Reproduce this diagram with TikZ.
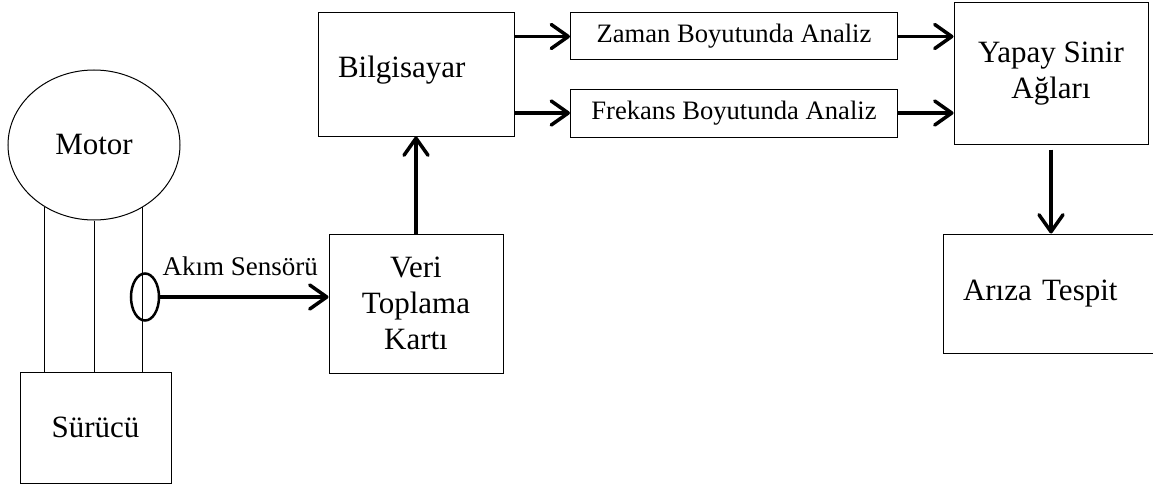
\documentclass[tikz,border=0pt]{standalone}
\usepackage{fontspec}
\setmainfont{Liberation Serif}
\usetikzlibrary{positioning,shapes.geometric,arrows.meta}

\begin{document}
\begin{tikzpicture}[
  x=1pt, y=-1pt,
  font=\fontsize{31}{36}\selectfont,
  box/.style={draw, line width=1pt, align=center, inner sep=0pt},
  small/.style={font=\fontsize{26.6}{32}\selectfont},
  arrow/.style={-{Straight Barb[length=17pt,width=24pt,round]}, line width=3.5pt},
  wire/.style={line width=1pt},
]
  \useasboundingbox (0,0) rectangle (1153,487);

  % motor side
  \node[box, ellipse, minimum width=172pt, minimum height=150pt] (motor) at (94,145) {Motor};
  \node[box, minimum width=151pt, minimum height=111pt] (surucu) at (95.5,427.5) {Sürücü};
  \node[draw, ellipse, line width=2.5pt, minimum width=28pt, minimum height=47pt, inner sep=0pt] (sensor) at (145,297) {};
  \node[anchor=base west, font=\fontsize{27}{32}\selectfont] (akim) at (159,275) {Akım Sensörü};

  \draw[wire] (motor.231.5) -- (motor.231.5 |- surucu.north);
  \draw[wire] (motor.south) -- (motor.south |- surucu.north);
  \draw[wire] (motor.308.5) -- (motor.308.5 |- surucu.north);

  % processing chain
  \node[box, minimum width=196pt, minimum height=123pt, text width=156pt, inner xsep=20pt, align=left, text depth=16pt] (bilgi) at (416,74.5) {Bilgisayar};
  \node[box, minimum width=174pt, minimum height=139pt, below=97pt of bilgi] (veri) {Veri\\Toplama\\Kartı};
  \node[box, small, minimum width=327pt, minimum height=47pt] (zaman) at (734,36.5) {Zaman Boyutunda Analiz};
  \node[box, small, minimum width=327pt, minimum height=48pt, below=28pt of zaman] (frekans) {Frekans Boyutunda Analiz};
  \node[box, minimum width=194pt, minimum height=141pt] (yapay) at (1051,73.5) {Yapay Sinir\\Ağları};
  \node[box, minimum width=216pt, minimum height=119pt, text width=176pt, inner xsep=20pt, align=left, below=89pt of yapay] (ariza) {Arıza Tespit};

  \draw[arrow] (sensor.east) -- (sensor.east -| veri.west);
  \draw[arrow] (veri.north) -- (veri.north |- bilgi.south);
  \draw[arrow] (bilgi.east |- zaman) -- (zaman.west);
  \draw[arrow] (bilgi.east |- frekans) -- (frekans.west);
  \draw[arrow] (zaman.east) -- (zaman.east -| yapay.west);
  \draw[arrow] (frekans.east) -- (frekans.east -| yapay.west);
  \draw[arrow, shorten <=5pt] (yapay.south) -- (ariza.north);
\end{tikzpicture}
\end{document}
